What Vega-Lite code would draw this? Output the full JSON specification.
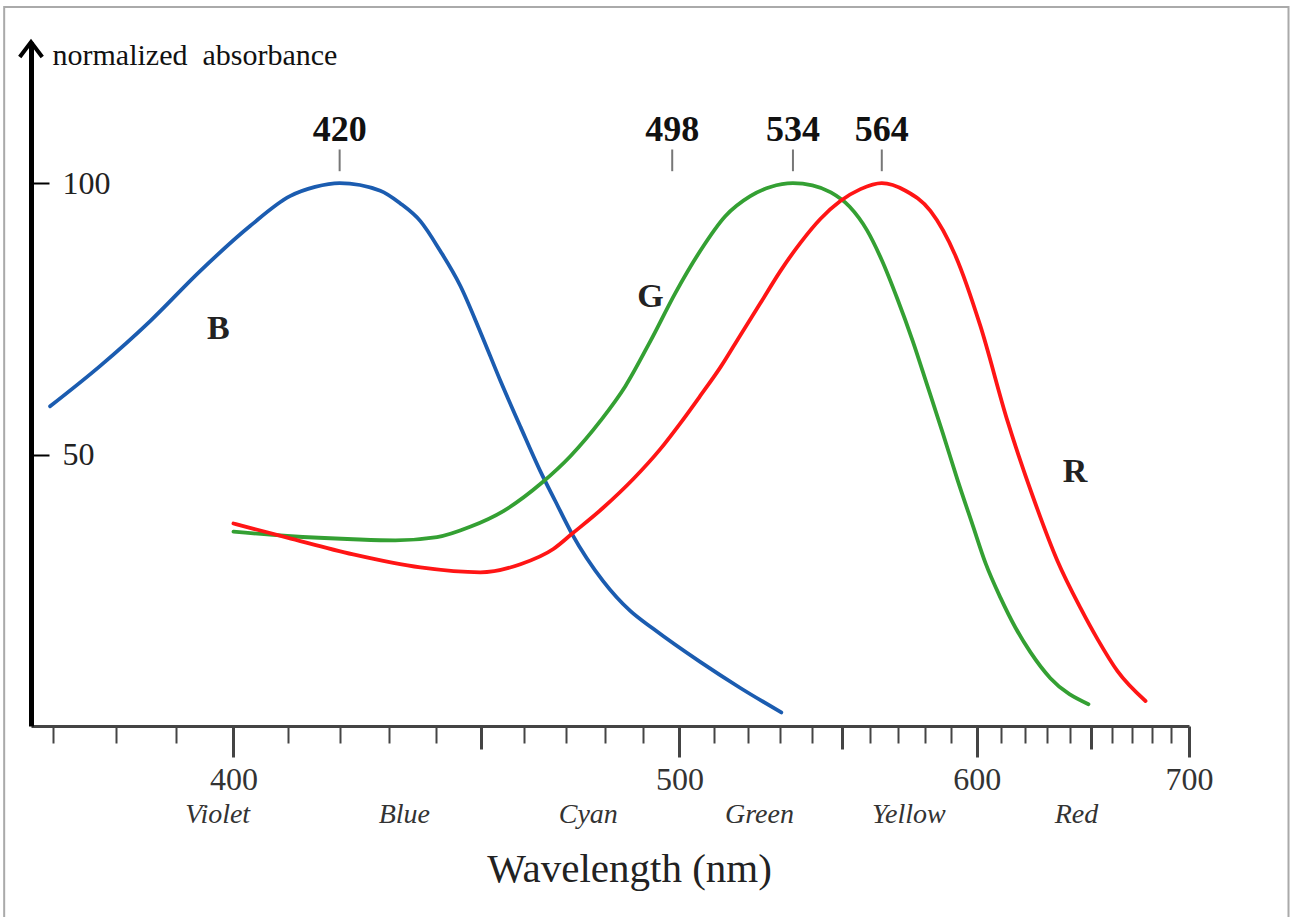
{
  "$schema": "https://vega.github.io/schema/vega-lite/v6.json",
  "width": 1158,
  "height": 684,
  "autosize": {"type": "none"},
  "padding": {"left": 31, "top": 42, "right": 103, "bottom": 191},
  "background": "white",
  "config": {"view": {"stroke": null}, "font": "Liberation Serif"},
  "datasets": {
    "curves": [
      {"cone": "B", "wl": 369.6, "abs": 58.9},
      {"cone": "B", "wl": 377.4, "abs": 66.3},
      {"cone": "B", "wl": 385.6, "abs": 74.6},
      {"cone": "B", "wl": 394.1, "abs": 83.8},
      {"cone": "B", "wl": 403.0, "abs": 92.1},
      {"cone": "B", "wl": 410.4, "abs": 97.6},
      {"cone": "B", "wl": 415.2, "abs": 99.3},
      {"cone": "B", "wl": 420.0, "abs": 100},
      {"cone": "B", "wl": 428.2, "abs": 98.6},
      {"cone": "B", "wl": 432.3, "abs": 96.3},
      {"cone": "B", "wl": 436.6, "abs": 93.0},
      {"cone": "B", "wl": 440.9, "abs": 87.5},
      {"cone": "B", "wl": 445.3, "abs": 81.1},
      {"cone": "B", "wl": 449.8, "abs": 72.6},
      {"cone": "B", "wl": 454.4, "abs": 63.6},
      {"cone": "B", "wl": 459.1, "abs": 55.1},
      {"cone": "B", "wl": 463.8, "abs": 47.0},
      {"cone": "B", "wl": 467.5, "abs": 41.4},
      {"cone": "B", "wl": 471.6, "abs": 35.4},
      {"cone": "B", "wl": 479.5, "abs": 26.7},
      {"cone": "B", "wl": 486.6, "abs": 21.2},
      {"cone": "B", "wl": 492.8, "abs": 17.9},
      {"cone": "B", "wl": 505.9, "abs": 11.8},
      {"cone": "B", "wl": 517.7, "abs": 7.0},
      {"cone": "B", "wl": 530.3, "abs": 2.5},
      {"cone": "G", "wl": 400.0, "abs": 35.8},
      {"cone": "G", "wl": 409.9, "abs": 35.0},
      {"cone": "G", "wl": 422.7, "abs": 34.4},
      {"cone": "G", "wl": 431.3, "abs": 34.2},
      {"cone": "G", "wl": 440.2, "abs": 34.8},
      {"cone": "G", "wl": 447.5, "abs": 36.7},
      {"cone": "G", "wl": 455.1, "abs": 39.6},
      {"cone": "G", "wl": 464.2, "abs": 44.8},
      {"cone": "G", "wl": 471.2, "abs": 49.7},
      {"cone": "G", "wl": 478.8, "abs": 56.2},
      {"cone": "G", "wl": 485.3, "abs": 62.6},
      {"cone": "G", "wl": 492.0, "abs": 70.9},
      {"cone": "G", "wl": 498.9, "abs": 79.8},
      {"cone": "G", "wl": 505.9, "abs": 87.5},
      {"cone": "G", "wl": 513.2, "abs": 93.9},
      {"cone": "G", "wl": 520.7, "abs": 97.6},
      {"cone": "G", "wl": 526.9, "abs": 99.3},
      {"cone": "G", "wl": 534.0, "abs": 100},
      {"cone": "G", "wl": 540.3, "abs": 99.6},
      {"cone": "G", "wl": 546.4, "abs": 98.3},
      {"cone": "G", "wl": 552.7, "abs": 95.7},
      {"cone": "G", "wl": 558.8, "abs": 91.3},
      {"cone": "G", "wl": 564.1, "abs": 85.7},
      {"cone": "G", "wl": 569.6, "abs": 78.7},
      {"cone": "G", "wl": 575.2, "abs": 71.0},
      {"cone": "G", "wl": 580.8, "abs": 62.6},
      {"cone": "G", "wl": 586.6, "abs": 54.0},
      {"cone": "G", "wl": 592.4, "abs": 45.3},
      {"cone": "G", "wl": 598.4, "abs": 37.0},
      {"cone": "G", "wl": 603.6, "abs": 30.0},
      {"cone": "G", "wl": 609.8, "abs": 23.6},
      {"cone": "G", "wl": 616.1, "abs": 18.1},
      {"cone": "G", "wl": 622.5, "abs": 13.6},
      {"cone": "G", "wl": 631.3, "abs": 8.8},
      {"cone": "G", "wl": 648.8, "abs": 4.0},
      {"cone": "R", "wl": 400.0, "abs": 37.3},
      {"cone": "R", "wl": 409.9, "abs": 34.7},
      {"cone": "R", "wl": 422.7, "abs": 31.6},
      {"cone": "R", "wl": 436.6, "abs": 29.2},
      {"cone": "R", "wl": 449.8, "abs": 28.3},
      {"cone": "R", "wl": 459.1, "abs": 29.8},
      {"cone": "R", "wl": 467.0, "abs": 32.6},
      {"cone": "R", "wl": 471.6, "abs": 35.4},
      {"cone": "R", "wl": 479.5, "abs": 40.2},
      {"cone": "R", "wl": 487.4, "abs": 45.5},
      {"cone": "R", "wl": 494.7, "abs": 51.0},
      {"cone": "R", "wl": 500.3, "abs": 55.8},
      {"cone": "R", "wl": 505.9, "abs": 60.8},
      {"cone": "R", "wl": 511.8, "abs": 66.1},
      {"cone": "R", "wl": 517.7, "abs": 72.0},
      {"cone": "R", "wl": 523.8, "abs": 77.9},
      {"cone": "R", "wl": 530.0, "abs": 83.8},
      {"cone": "R", "wl": 536.4, "abs": 89.0},
      {"cone": "R", "wl": 542.9, "abs": 93.4},
      {"cone": "R", "wl": 549.6, "abs": 96.7},
      {"cone": "R", "wl": 556.5, "abs": 98.9},
      {"cone": "R", "wl": 564.0, "abs": 100},
      {"cone": "R", "wl": 572.6, "abs": 98.6},
      {"cone": "R", "wl": 581.9, "abs": 94.9},
      {"cone": "R", "wl": 591.6, "abs": 86.6},
      {"cone": "R", "wl": 601.5, "abs": 73.7},
      {"cone": "R", "wl": 612.7, "abs": 56.2},
      {"cone": "R", "wl": 623.8, "abs": 42.0},
      {"cone": "R", "wl": 634.5, "abs": 30.4},
      {"cone": "R", "wl": 645.1, "abs": 21.7},
      {"cone": "R", "wl": 653.1, "abs": 16.0},
      {"cone": "R", "wl": 662.8, "abs": 10.1},
      {"cone": "R", "wl": 676.9, "abs": 4.6}
    ],
    "peaks": [
      {"wl": 420, "label": "420"},
      {"wl": 498, "label": "498"},
      {"wl": 534, "label": "534"},
      {"wl": 564, "label": "564"}
    ],
    "bands": [
      {"wl": 397.2, "name": "Violet"},
      {"wl": 433.2, "name": "Blue"},
      {"wl": 475.7, "name": "Cyan"},
      {"wl": 523.5, "name": "Green"},
      {"wl": 573.8, "name": "Yellow"},
      {"wl": 643.2, "name": "Red"}
    ],
    "curveLabels": [
      {"wl": 397.3, "abs": 73.1, "label": "B"},
      {"wl": 492.0, "abs": 79.0, "label": "G"},
      {"wl": 642.5, "abs": 46.8, "label": "R"}
    ],
    "frame": [{"x1": 362.7, "x2": 759.3, "y1": 132.45, "y2": -36}],
    "origin": [{"wl": 366.7, "abs": 126}]
  },
  "layer": [
    {
      "data": {"name": "curves"},
      "mark": {"type": "line", "interpolate": "monotone", "strokeWidth": 3.8, "strokeCap": "round"},
      "encoding": {
        "x": {
          "field": "wl", "type": "quantitative",
          "scale": {"type": "pow", "exponent": -1, "domain": [366.7, 700], "zero": false, "nice": false},
          "axis": {
            "values": [370,380,390,400,410,420,430,440,450,460,470,480,490,500,510,520,530,540,550,560,570,580,590,600,610,620,630,640,650,660,670,680,690,700],
            "tickCount": 100,
            "grid": false,
            "domainColor": "#444444", "domainWidth": 3,
            "tickColor": "#444444",
            "tickWidth": {"condition": {"test": "datum.value % 50 === 0", "value": 3}, "value": 2},
            "tickSize": {"condition": [{"test": "datum.value % 100 === 0", "value": 31}, {"test": "datum.value % 50 === 0", "value": 23}], "value": 17},
            "labelExpr": "datum.value % 100 === 0 ? datum.label : ''",
            "labelFont": "Liberation Serif", "labelFontSize": 32, "labelColor": "#333333",
            "labelPadding": 7, "labelBaseline": "top",
            "labelFlush": false, "labelOverlap": false, "labelBound": false,
            "title": "Wavelength (nm)",
            "titleFont": "Liberation Serif", "titleFontSize": 41, "titleFontWeight": "normal", "titleColor": "#222222",
            "titleX": 598, "titleY": 155, "titleAlign": "center", "titleBaseline": "alphabetic"
          }
        },
        "y": {
          "field": "abs", "type": "quantitative",
          "scale": {"domain": [0, 126], "zero": false, "nice": false},
          "axis": {
            "values": [50, 100],
            "grid": false,
            "domainColor": "#000000", "domainWidth": 5, "domainCap": "butt",
            "tickColor": "#000000", "tickWidth": 2, "tickSize": -18,
            "labelPadding": -13, "labelAlign": "left", "labelBaseline": "middle",
            "labelFont": "Liberation Serif", "labelFontSize": 32, "labelColor": "#222222",
            "title": "normalized\u00a0\u00a0absorbance",
            "titleAngle": 0, "titleX": 21, "titleY": 22, "titleAlign": "left", "titleBaseline": "alphabetic",
            "titleFont": "Liberation Serif", "titleFontSize": 30, "titleFontWeight": "normal", "titleColor": "#111111"
          }
        },
        "color": {"field": "cone", "type": "nominal", "scale": {"domain": ["B", "G", "R"], "range": ["#1b5cb0", "#34a033", "#ff1515"]}, "legend": null}
      }
    },
    {
      "data": {"name": "frame"},
      "mark": {"type": "rect", "fillOpacity": 0, "stroke": "#aaaaaa", "strokeWidth": 2},
      "encoding": {
        "x": {"field": "x1", "type": "quantitative"},
        "x2": {"field": "x2"},
        "y": {"field": "y1", "type": "quantitative"},
        "y2": {"field": "y2"}
      }
    },
    {
      "data": {"name": "peaks"},
      "mark": {"type": "rule", "stroke": "#777777", "strokeWidth": 2},
      "encoding": {
        "x": {"field": "wl", "type": "quantitative"},
        "y": {"datum": 106.2, "type": "quantitative"},
        "y2": {"datum": 102.2}
      }
    },
    {
      "data": {"name": "peaks"},
      "mark": {"type": "text", "font": "Liberation Serif", "fontSize": 36, "fontWeight": "bold", "color": "#111111", "baseline": "middle", "align": "center"},
      "encoding": {
        "x": {"field": "wl", "type": "quantitative"},
        "y": {"datum": 109.8, "type": "quantitative"},
        "text": {"field": "label"}
      }
    },
    {
      "data": {"name": "bands"},
      "mark": {"type": "text", "font": "Liberation Serif", "fontSize": 28, "fontStyle": "italic", "color": "#333333", "baseline": "middle", "align": "center"},
      "encoding": {
        "x": {"field": "wl", "type": "quantitative"},
        "y": {"datum": -16.4, "type": "quantitative"},
        "text": {"field": "name"}
      }
    },
    {
      "data": {"name": "curveLabels"},
      "mark": {"type": "text", "font": "Liberation Serif", "fontSize": 34, "fontWeight": "bold", "color": "#222222", "baseline": "middle", "align": "center"},
      "encoding": {
        "x": {"field": "wl", "type": "quantitative"},
        "y": {"field": "abs", "type": "quantitative"},
        "text": {"field": "label"}
      }
    },
    {
      "data": {"name": "origin"},
      "mark": {"type": "point", "shape": "M-0.75,1L0,0L0.75,1", "size": 900, "filled": false, "stroke": "#000000", "strokeWidth": 4, "strokeJoin": "miter", "opacity": 1},
      "encoding": {
        "x": {"field": "wl", "type": "quantitative"},
        "y": {"field": "abs", "type": "quantitative"}
      }
    }
  ]
}
